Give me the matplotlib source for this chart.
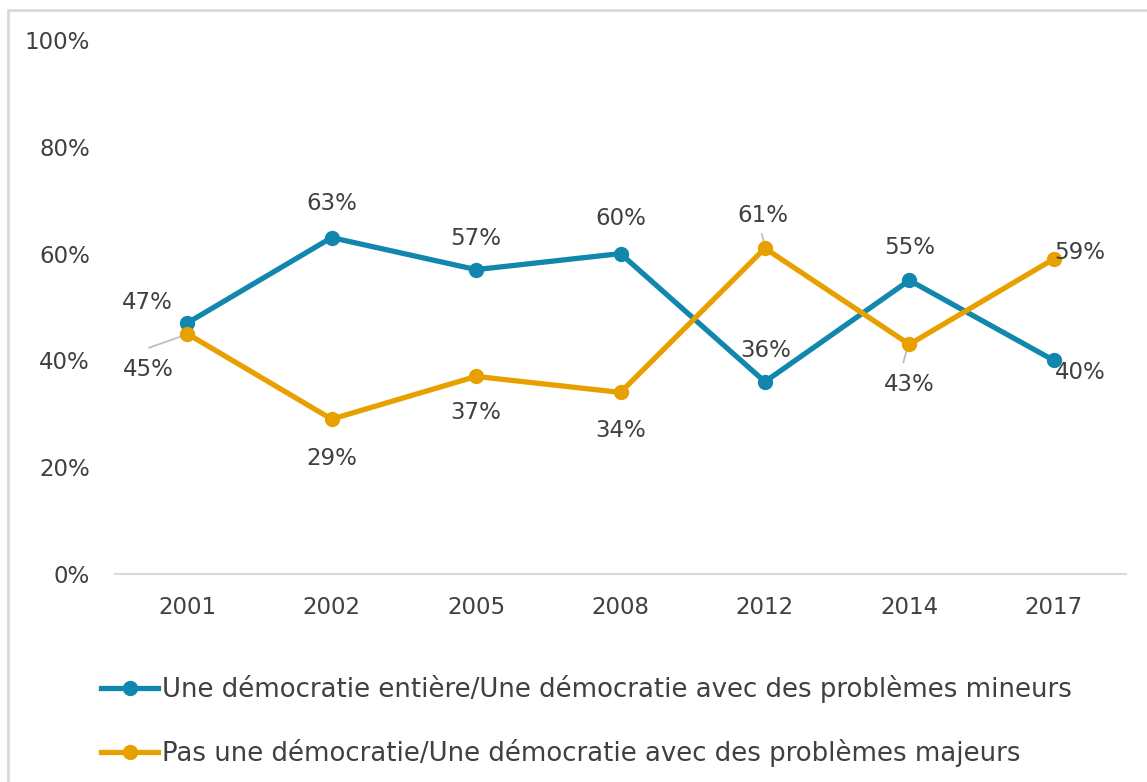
import matplotlib.pyplot as plt
from matplotlib.lines import Line2D
from matplotlib.patches import Rectangle

# === 1. Données ===
annees = ["2001", "2002", "2005", "2008", "2012", "2014", "2017"]
democratie = [47, 63, 57, 60, 36, 55, 40]
pas_democratie = [45, 29, 37, 34, 61, 43, 59]

label_bleu = "Une démocratie entière/Une démocratie avec des problèmes mineurs"
label_orange = "Pas une démocratie/Une démocratie avec des problèmes majeurs"

# décalages des étiquettes (pixels)
off_bleu = [(-40, 21), (0, 34), (0, 31), (0, 35), (1, 31), (0, 33), (26, -12)]
off_orange = [(-39, -36), (0, -39), (0, -36), (0, -38), (-2, 33), (0, -40), (26, 6)]
# traits de rappel (début, fin) en pixels par rapport au point
leaders = {0: ((-38, -14), (-4, -2)), 4: ((-3, 14), (0, 2)), 5: ((-3, -7), (-6, -18))}

bleu = "#1287ad"
orange = "#e8a000"
gris_txt = "#404040"

plt.rcParams["font.family"] = ["DejaVu Sans"]

# === 2. Figure ===
fig = plt.figure(figsize=(11.47, 7.82), dpi=100)
ax = fig.add_axes([115 / 1147, 1 - 574 / 782, (1126 - 115) / 1147, (574 - 40) / 782])

# cadre gris clair
fig.patches.append(Rectangle((8 / 1147, -0.1), 1.2, 1 - 10 / 782 + 0.1, transform=fig.transFigure,
                             fill=False, edgecolor="#d9d9d9", linewidth=2))

x = range(len(annees))
ax.set_xlim(-0.5, len(annees) - 0.5)
ax.set_ylim(0, 100)

# traits de rappel sous les courbes
inv = ax.transData.inverted()
for i, (a, b) in leaders.items():
    p0 = ax.transData.transform((i, pas_democratie[i]))
    d0 = inv.transform((p0[0] + a[0], p0[1] + a[1]))
    d1 = inv.transform((p0[0] + b[0], p0[1] + b[1]))
    ax.plot([d0[0], d1[0]], [d0[1], d1[1]], color="#bfbfbf", linewidth=1.3, zorder=1)

ax.plot(x, democratie, color=bleu, linewidth=3.8, marker="o", markersize=10, zorder=3)
ax.plot(x, pas_democratie, color=orange, linewidth=3.8, marker="o", markersize=10, zorder=3)

fs = 16.5
for i, v in enumerate(democratie):
    ax.annotate(f"{v}%", (i, v), xytext=off_bleu[i], textcoords="offset pixels",
                ha="center", va="center", fontsize=fs, color=gris_txt)
for i, v in enumerate(pas_democratie):
    ax.annotate(f"{v}%", (i, v), xytext=off_orange[i], textcoords="offset pixels",
                ha="center", va="center", fontsize=fs, color=gris_txt)

ax.set_xlim(-0.5, len(annees) - 0.5)
ax.set_ylim(0, 100)
ax.set_yticks([0, 20, 40, 60, 80, 100])
ax.set_yticklabels([f"{t}%" for t in [0, 20, 40, 60, 80, 100]])
ax.set_xticks(list(x))
ax.set_xticklabels(annees)
ax.tick_params(axis="both", length=0, labelsize=16.5, colors=gris_txt)
ax.tick_params(axis="y", pad=18)
ax.tick_params(axis="x", pad=16)

for s in ["top", "right", "left"]:
    ax.spines[s].set_visible(False)
ax.spines["bottom"].set_color("#d9d9d9")
ax.spines["bottom"].set_linewidth(1.5)

# === 3. Légende ===
handles = [Line2D([], [], color=bleu, linewidth=3.8, marker="o", markersize=10),
           Line2D([], [], color=orange, linewidth=3.8, marker="o", markersize=10)]
leg = fig.legend(handles, [label_bleu, label_orange], loc="upper left",
                 bbox_to_anchor=(101 / 1147, 1 - 675 / 782), frameon=False, fontsize=18.7,
                 handlelength=2.2, handletextpad=0.15, labelspacing=1.4, borderpad=0, borderaxespad=0)
for t in leg.get_texts():
    t.set_color(gris_txt)

plt.savefig("out.png", dpi=100)
plt.close()
